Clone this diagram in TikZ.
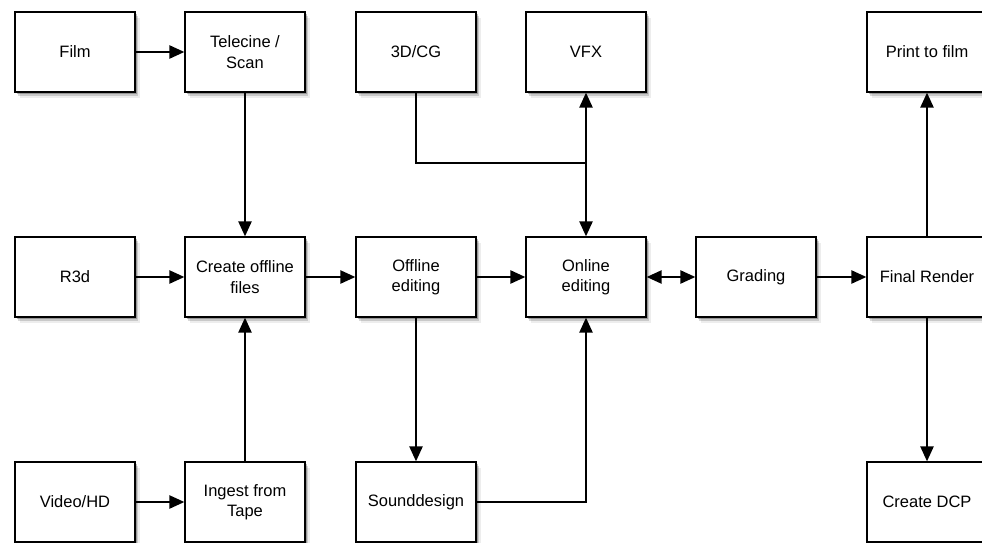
\documentclass[tikz,border=0pt]{standalone}
\usepackage{fontspec}
\setmainfont{Liberation Sans}
\usetikzlibrary{arrows.meta,shadows}
\begin{document}
\begin{tikzpicture}[x=1pt,y=-1pt,
  box/.style={draw=black, line width=1.2pt, fill=white, minimum width=120pt, minimum height=80pt,
    align=center, font=\fontsize{16.5}{20.5}\selectfont, inner sep=2pt,
    drop shadow={shadow xshift=1.5pt, shadow yshift=-2pt, fill=black, opacity=0.25},
    drop shadow={shadow xshift=3pt, shadow yshift=-4pt, fill=black, opacity=0.15},
    drop shadow={shadow xshift=4.5pt, shadow yshift=-6pt, fill=black, opacity=0.07}},
  conn/.style={line width=2.3pt, -{Triangle[length=15pt,width=13pt]}},
  both/.style={line width=2.3pt, {Triangle[length=15pt,width=13pt]}-{Triangle[length=15pt,width=13pt]}},
  plain/.style={line width=2.3pt}]
\useasboundingbox (0,0) rectangle (982,543);
\fill[white] (0,0) rectangle (982,543);
% top row
\node[box] (film) at (75,52) {Film};
\node[box] (tele) at (245,52) {Telecine /\\Scan};
\node[box] (cg) at (416,52) {3D/CG};
\node[box] (vfx) at (586,52) {VFX};
\node[box] (print) at (927,52) {Print to film};
% middle row
\node[box] (r3d) at (75,277) {R3d};
\node[box] (create) at (245,277) {Create offline\\files};
\node[box] (offline) at (416,277) {Offline\\editing};
\node[box] (online) at (586,277) {Online\\editing};
\node[box] (grading) at (756,277) {Grading};
\node[box] (final) at (927,277) {Final Render};
% bottom row
\node[box] (video) at (75,502) {Video/HD};
\node[box] (ingest) at (245,502) {Ingest from\\Tape};
\node[box] (sound) at (416,502) {Sounddesign};
\node[box] (dcp) at (927,502) {Create DCP};
% junction
\coordinate (j) at (586,163);
% connectors
\draw[conn] (film) -- (tele);
\draw[conn] (tele) -- (create);
\draw[conn] (r3d) -- (create);
\draw[conn] (create) -- (offline);
\draw[conn] (offline) -- (online);
\draw[both] (online) -- (grading);
\draw[conn] (grading) -- (final);
\draw[conn] (final) -- (print);
\draw[conn] (final) -- (dcp);
\draw[conn] (video) -- (ingest);
\draw[conn] (ingest) -- (create);
\draw[conn] (offline) -- (sound);
\draw[conn] (sound) -| (online);
\draw[plain] (cg.south) |- (j);
\draw[conn] (j) -- (vfx);
\draw[conn] (j) -- (online);
\end{tikzpicture}
\end{document}
